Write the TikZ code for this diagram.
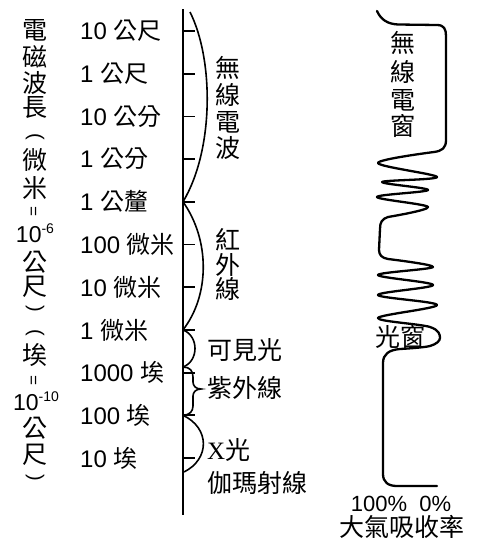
\documentclass[tikz,border=0pt]{standalone}
\usepackage{fontspec}
\setmainfont{Liberation Sans}
\newfontfamily\cjk{Noto Sans CJK TC}
\newfontfamily\serifx{Liberation Serif}
\begin{document}
\begin{tikzpicture}[x=1pt,y=-1pt,
  axisline/.style={line width=2.4pt},
  tickline/.style={line width=1.8pt},
  bandline/.style={line width=1.6pt},
  abscurve/.style={line width=2.3pt, line cap=round, line join=round},
  unitlab/.style={anchor=west, inner sep=0pt, font=\fontsize{24}{24}\selectfont},
  vchar/.style={inner sep=0pt, font=\cjk\fontsize{25}{25}\selectfont},
  bandlab/.style={anchor=west, inner sep=0pt, font=\cjk\fontsize{25}{25}\selectfont},
  eqsign/.style={inner sep=0pt, rotate=90, font=\fontsize{17}{17}\selectfont},
  vparen/.style={inner sep=0pt, rotate=-90, font=\fontsize{20}{20}\selectfont},
  power/.style={inner sep=0pt, font=\fontsize{23}{23}\selectfont},
]
\useasboundingbox (0,0) rectangle (482,541);

% axis
\coordinate (atop) at (183,9);
\coordinate (abot) at (183,515);
\draw[axisline] (atop) -- (abot);
\foreach \i in {0,...,10} {
  \coordinate (t\i) at (183,{31+42.7*\i});
  \coordinate (e\i) at (195,{31+42.7*\i});
  \draw[tickline] (t\i) -- (e\i);
}

% unit labels
\foreach \n/\u [count=\i from 0] in {10/公尺,1/公尺,10/公分,1/公分,1/公釐,100/微米,10/微米,1/微米,1000/埃,100/埃,10/埃} {
  \node[unitlab] (u\i) at (80,{31+42.7*\i}) {\n\ {\cjk\u}};
}

% vertical title
\foreach \c/\y [count=\k] in {電/30,磁/57,波/83,長/108,微/160,米/188,公/262,尺/287,埃/355,公/428,尺/455} {
  \node[vchar] (v\k) at (35,\y) {\c};
}
\node[vparen] (pl1) at (35,137) {(};
\node[vparen] (pr1) at (35,309) {)};
\node[vparen] (pl2) at (35,333) {(};
\node[vparen] (pr2) at (35,478) {)};
\node[eqsign] (eqa) at (35,212) {=};
\node[eqsign] (eqb) at (35,381) {=};
\node[power] (pa) at (35,233) {10\raisebox{9pt}{\fontsize{14}{14}\selectfont -6}};
\node[power] (pb) at (36,401) {10\raisebox{9pt}{\fontsize{14}{14}\selectfont -10}};

% band arcs
\coordinate (rtop) at (190,12);
\draw[bandline] (rtop) .. controls (214,60) and (214,150) .. (t4);
\draw[bandline] (t4) .. controls (210,240) and (210,295) .. (t7);
\coordinate (uvtop) at (183,367);
\draw[bandline] (t7) .. controls (199,336) and (199,361) .. (uvtop);
\coordinate (uvtip) at (201,389);
\draw[bandline] (uvtop) .. controls (190,367) and (193,371) .. (193,377) -- (193,382)
   .. controls (193,386) and (196,389) .. (uvtip)
   .. controls (196,389) and (193,392) .. (193,396) -- (193,406)
   .. controls (193,411) and (190,415) .. (t9);
\coordinate (xbot) at (184,472);
\draw[bandline] (t9) .. controls (210,428) and (210,459) .. (xbot);

% band labels
\foreach \c/\y [count=\k] in {無/68,線/95,電/122,波/148} {
  \node[vchar] (r\k) at (228,\y) {\c};
}
\foreach \c/\y [count=\k] in {紅/240,外/265,線/289} {
  \node[vchar] (i\k) at (228,\y) {\c};
}
\node[bandlab] (vis) at (207,350) {可見光};
\node[bandlab] (uv) at (207,388) {紫外線};
\node[bandlab] (xr) at (207,450) {{\serifx X}光};
\node[bandlab] (gam) at (207,483) {伽瑪射線};

% absorption curve
\coordinate (ctop) at (377,11);
\coordinate (cend) at (437,486);
\draw[abscurve] (ctop) .. controls (381,20) and (388,24) .. (398,24.5) -- (437,25)
  .. controls (444,25) and (446,29) .. (446,36) -- (446,140)
  .. controls (446,148) and (442,151) .. (434,152)
  -- plot[smooth, tension=0.55] coordinates {(434,152) (378,163) (437,177) (382,182) (428,190) (377,197) (428,207) (388,217)}
  .. controls (382,219) and (380,222) .. (380,229) -- (379,250)
  .. controls (379,255) and (382,258) .. (388,259)
  -- plot[smooth, tension=0.55] coordinates {(388,259) (433,267) (378,275) (433,285) (378,295) (437,305) (378,318) (430,327) (440,338) (430,346) (400,349)}
  .. controls (389,350) and (383,354) .. (383,363) -- (383,474)
  .. controls (383,482) and (388,486) .. (397,486) -- (cend);

% window labels
\foreach \c/\y [count=\k] in {無/43,線/72,電/100,窗/126} {
  \node[vchar] (w\k) at (403,\y) {\c};
}
\node[vchar] (ow) at (400,337) {光窗};
\node[inner sep=0pt, font=\fontsize{22}{22}\selectfont] (pct) at (401,504) {100\%\ \ 0\%};
\node[vchar, font=\cjk\fontsize{25}{25}\selectfont] (abs) at (402,527) {大氣吸收率};
\end{tikzpicture}
\end{document}
